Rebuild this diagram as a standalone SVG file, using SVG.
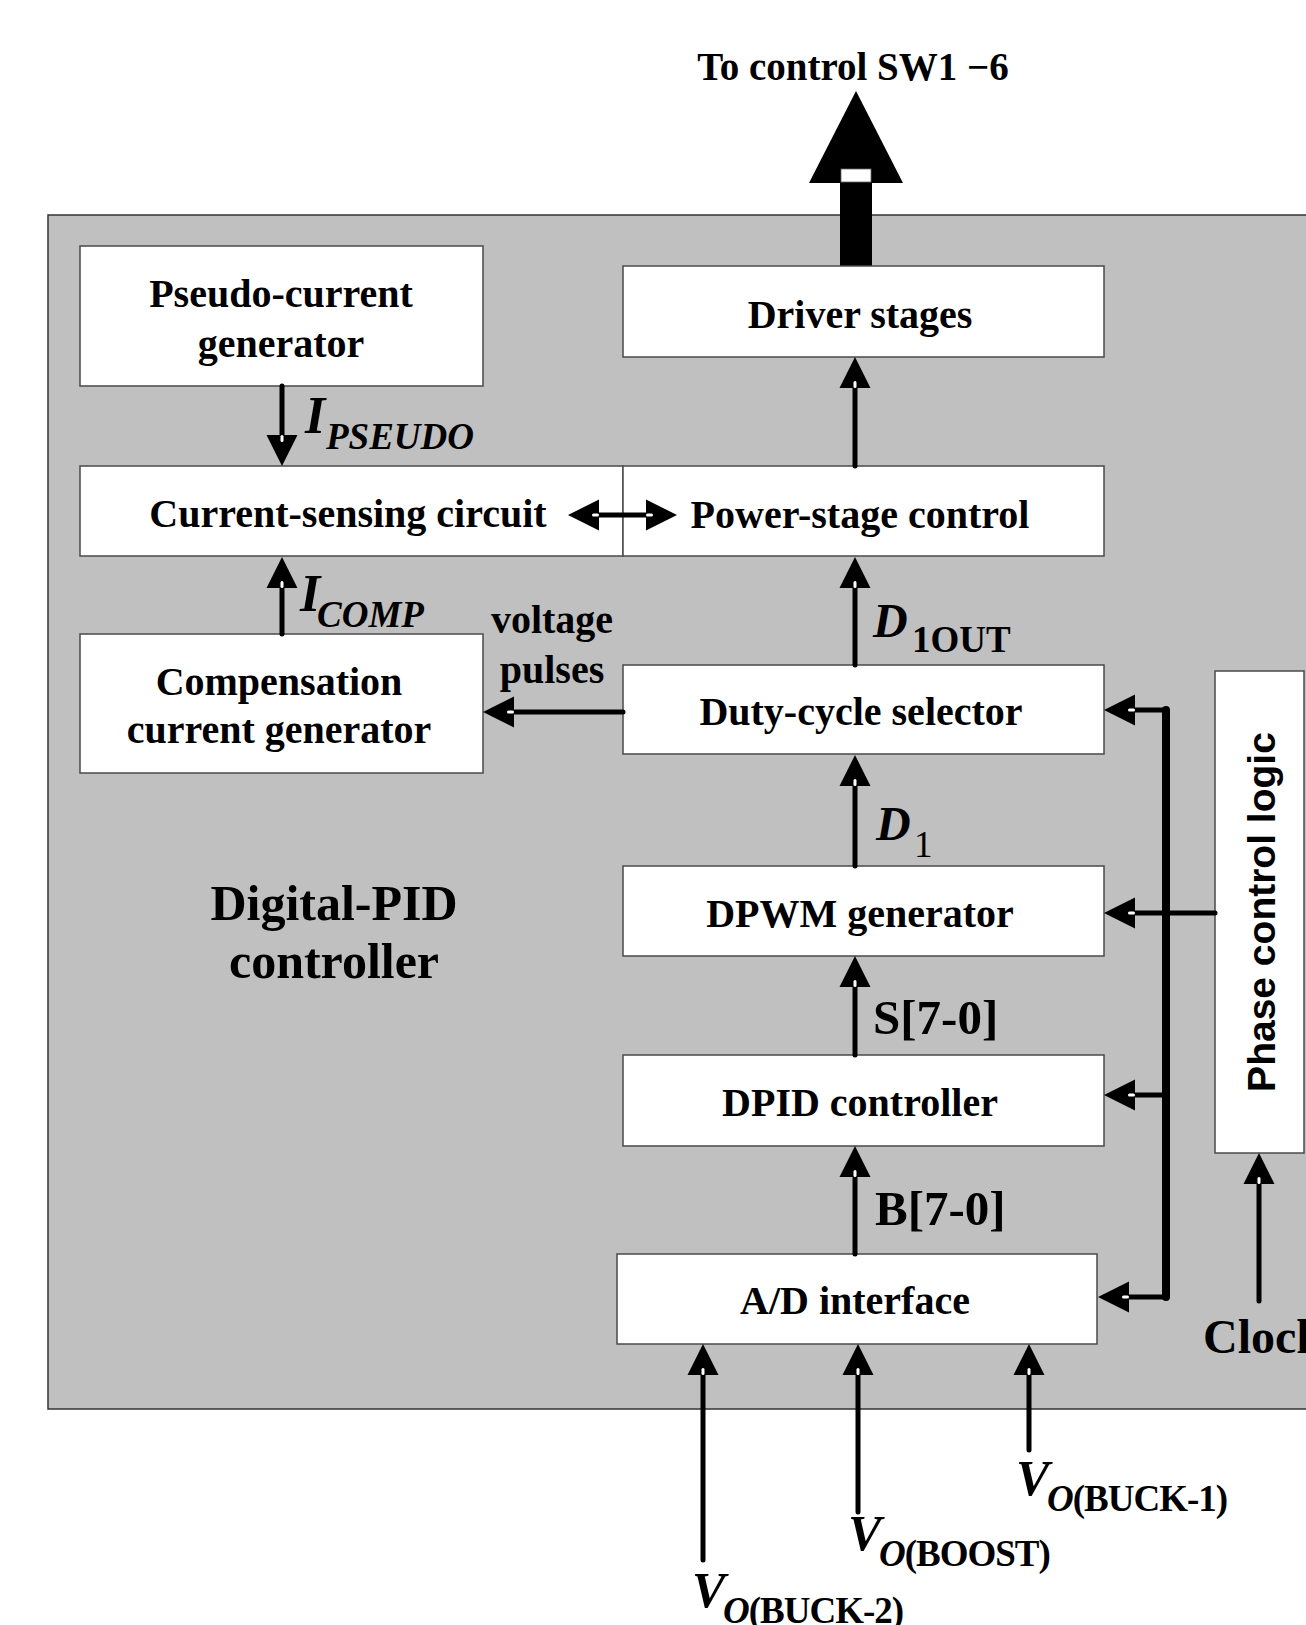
<svg xmlns="http://www.w3.org/2000/svg" width="1306" height="1625" viewBox="0 0 1306 1625">
<style>
.bg{fill:#c0c0c0;stroke:#333;stroke-width:1.5}
.box{fill:#fff;stroke:#4a4a4a;stroke-width:1.5}
.t{font-family:"Liberation Serif","Times New Roman",serif;font-weight:bold;font-size:40px;text-anchor:middle;fill:#000}
.big{font-size:50px}
.lab{font-family:"Liberation Serif","Times New Roman",serif;font-weight:bold;fill:#000}
.it{font-style:italic}
.w{stroke:#000;stroke-width:5;fill:none;stroke-linecap:round}
.bus{stroke:#000;stroke-width:8;fill:none;stroke-linejoin:round;stroke-linecap:round}
.ph{font-family:"Liberation Sans",Arial,sans-serif;font-weight:bold;font-size:39px;text-anchor:middle}
</style>
<defs>
<marker id="ah" markerUnits="userSpaceOnUse" markerWidth="40" markerHeight="40" refX="1" refY="0" orient="auto-start-reverse" overflow="visible">
<path d="M0,-15.5 L31,0 L0,15.5 Z" fill="#000"/>
<rect x="0" y="-1.5" width="7" height="3" rx="1.5" fill="#fff"/>
</marker>
</defs>

<rect class="bg" x="48" y="215" width="1300" height="1194"/>

<g id="title">
<text class="t" x="853" y="80" style="font-size:39px">To control SW1 −6</text>
</g>

<g id="out-arrow">
<polygon points="856,91 809,183 903,183" fill="#000"/>
<rect x="840" y="182" width="32" height="84" fill="#000"/>
<rect x="841" y="169" width="30" height="13" fill="#fff" stroke="#666" stroke-width="0.8"/>
</g>

<g id="pseudo">
<rect class="box" x="80" y="246" width="403" height="140"/>
<text class="t" x="281" y="307">Pseudo-current</text>
<text class="t" x="281" y="357">generator</text>
</g>

<g id="driver">
<rect class="box" x="623" y="266" width="481" height="91"/>
<text class="t" x="860" y="328">Driver stages</text>
</g>

<g id="sensing">
<rect class="box" x="80" y="466" width="543" height="90"/>
<text class="t" x="348" y="527">Current-sensing circuit</text>
</g>

<g id="power">
<rect class="box" x="623" y="466" width="481" height="90"/>
<text class="t" x="860" y="528">Power-stage control</text>
</g>

<g id="comp">
<rect class="box" x="80" y="634" width="403" height="139"/>
<text class="t" x="279" y="695">Compensation</text>
<text class="t" x="279" y="743">current generator</text>
</g>

<g id="duty">
<rect class="box" x="623" y="665" width="481" height="89"/>
<text class="t" x="861" y="725">Duty-cycle selector</text>
</g>

<g id="dpwm">
<rect class="box" x="623" y="866" width="481" height="90"/>
<text class="t" x="860" y="927">DPWM generator</text>
</g>

<g id="dpid">
<rect class="box" x="623" y="1055" width="481" height="91"/>
<text class="t" x="860" y="1116">DPID controller</text>
</g>

<g id="ad">
<rect class="box" x="617" y="1254" width="480" height="90"/>
<text class="t" x="855" y="1314">A/D interface</text>
</g>

<g id="phase">
<rect class="box" x="1215" y="671" width="89" height="482"/>
<text class="ph" transform="translate(1275,912) rotate(-90)">Phase control logic</text>
</g>

<g id="digital-pid-label">
<text class="t big" x="334" y="920">Digital-PID</text>
<text class="t big" x="334" y="978">controller</text>
</g>

<g id="connectors">
<line class="w" x1="282" y1="386" x2="282" y2="436" marker-end="url(#ah)"/>
<line class="w" x1="282" y1="634" x2="282" y2="587" marker-end="url(#ah)"/>
<line class="w" x1="598" y1="515" x2="647" y2="515" marker-start="url(#ah)" marker-end="url(#ah)"/>
<line class="w" x1="855" y1="466" x2="855" y2="387" marker-end="url(#ah)"/>
<line class="w" x1="855" y1="665" x2="855" y2="587" marker-end="url(#ah)"/>
<line class="w" x1="623" y1="712" x2="513" y2="712" marker-end="url(#ah)"/>
<line class="w" x1="855" y1="866" x2="855" y2="785" marker-end="url(#ah)"/>
<line class="w" x1="855" y1="1055" x2="855" y2="986" marker-end="url(#ah)"/>
<line class="w" x1="855" y1="1254" x2="855" y2="1176" marker-end="url(#ah)"/>
<path class="bus" d="M1166,710 V1297"/>
<line class="w" x1="1166" y1="710" x2="1134" y2="710" marker-end="url(#ah)"/>
<line class="w" x1="1215" y1="913" x2="1134" y2="913" marker-end="url(#ah)"/>
<line class="w" x1="1166" y1="1095" x2="1134" y2="1095" marker-end="url(#ah)"/>
<line class="w" x1="1166" y1="1297" x2="1128" y2="1297" marker-end="url(#ah)"/>
<line class="w" x1="1259" y1="1301" x2="1259" y2="1183" marker-end="url(#ah)"/>
<line class="w" x1="703" y1="1560" x2="703" y2="1374" marker-end="url(#ah)"/>
<line class="w" x1="858" y1="1512" x2="858" y2="1374" marker-end="url(#ah)"/>
<line class="w" x1="1029" y1="1450" x2="1029" y2="1374" marker-end="url(#ah)"/>
</g>

<g id="labels">
<text class="lab it" x="305" y="433" font-size="52">I</text>
<text class="lab it" x="326" y="449" font-size="37">PSEUDO</text>
<text class="lab it" x="300" y="611" font-size="52">I</text>
<text class="lab it" x="317" y="627" font-size="37">COMP</text>
<text class="t" x="552" y="633">voltage</text>
<text class="t" x="552" y="683">pulses</text>
<text class="lab it" x="873" y="637" font-size="48">D</text>
<text class="lab" x="912" y="652" font-size="37">1OUT</text>
<text class="lab it" x="876" y="840" font-size="48">D</text>
<text class="lab" x="914" y="857" font-size="37" font-weight="normal" style="font-weight:normal">1</text>
<text class="lab" x="873" y="1034" font-size="49">S[7-0]</text>
<text class="lab" x="875" y="1225" font-size="49">B[7-0]</text>
<text class="lab" x="1203" y="1353" font-size="48">Clock</text>
<text class="lab it" x="1016" y="1495" font-size="50">V</text>
<text class="lab" x="1047" y="1511" font-size="37" letter-spacing="-1"><tspan font-style="italic">O</tspan>(BUCK-1)</text>
<text class="lab it" x="848" y="1550" font-size="50">V</text>
<text class="lab" x="879" y="1566" font-size="37" letter-spacing="-1"><tspan font-style="italic">O</tspan>(BOOST)</text>
<text class="lab it" x="692" y="1607" font-size="50">V</text>
<text class="lab" x="723" y="1623" font-size="37" letter-spacing="-1"><tspan font-style="italic">O</tspan>(BUCK-2)</text>
</g>
</svg>
